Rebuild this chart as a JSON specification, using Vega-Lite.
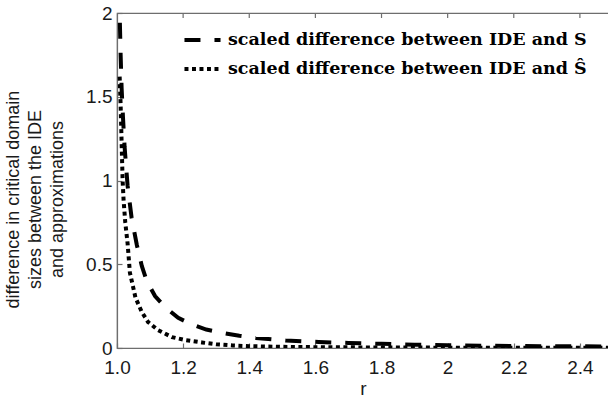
{
  "$schema": "https://vega.github.io/schema/vega-lite/v6.json",
  "autosize": {"type": "none"},
  "padding": {"left": 117, "top": 13, "right": 0, "bottom": 54},
  "width": 492,
  "height": 335,
  "background": "white",
  "config": {
    "view": {"stroke": "#6e6e6e", "strokeWidth": 1.2},
    "axis": {
      "labelFont": "Liberation Sans",
      "labelFontSize": 19,
      "labelColor": "#1a1a1a",
      "labelFlush": false,
      "titleFont": "Liberation Sans",
      "titleFontSize": 18,
      "titleFontWeight": "normal",
      "titleColor": "#1a1a1a",
      "domainColor": "#6e6e6e",
      "tickColor": "#6e6e6e",
      "domainWidth": 1.2,
      "tickWidth": 1.2,
      "grid": false
    }
  },
  "datasets": {
    "curves": [
      {"series": "scaled difference between IDE and S", "r": 1.006, "d": 2.3},
      {"series": "scaled difference between IDE and S", "r": 1.008, "d": 2.0},
      {"series": "scaled difference between IDE and S", "r": 1.011, "d": 1.75},
      {"series": "scaled difference between IDE and S", "r": 1.014, "d": 1.55},
      {"series": "scaled difference between IDE and S", "r": 1.018, "d": 1.38},
      {"series": "scaled difference between IDE and S", "r": 1.023, "d": 1.2},
      {"series": "scaled difference between IDE and S", "r": 1.032, "d": 0.97},
      {"series": "scaled difference between IDE and S", "r": 1.044, "d": 0.78},
      {"series": "scaled difference between IDE and S", "r": 1.06, "d": 0.615},
      {"series": "scaled difference between IDE and S", "r": 1.075, "d": 0.49},
      {"series": "scaled difference between IDE and S", "r": 1.09, "d": 0.4},
      {"series": "scaled difference between IDE and S", "r": 1.115, "d": 0.31},
      {"series": "scaled difference between IDE and S", "r": 1.145, "d": 0.245},
      {"series": "scaled difference between IDE and S", "r": 1.185, "d": 0.18},
      {"series": "scaled difference between IDE and S", "r": 1.227, "d": 0.14},
      {"series": "scaled difference between IDE and S", "r": 1.27, "d": 0.11},
      {"series": "scaled difference between IDE and S", "r": 1.32, "d": 0.09},
      {"series": "scaled difference between IDE and S", "r": 1.37, "d": 0.073},
      {"series": "scaled difference between IDE and S", "r": 1.42, "d": 0.06},
      {"series": "scaled difference between IDE and S", "r": 1.51, "d": 0.045},
      {"series": "scaled difference between IDE and S", "r": 1.61, "d": 0.036},
      {"series": "scaled difference between IDE and S", "r": 1.7, "d": 0.03},
      {"series": "scaled difference between IDE and S", "r": 1.8, "d": 0.025},
      {"series": "scaled difference between IDE and S", "r": 1.9, "d": 0.02},
      {"series": "scaled difference between IDE and S", "r": 2.0, "d": 0.017},
      {"series": "scaled difference between IDE and S", "r": 2.1, "d": 0.014},
      {"series": "scaled difference between IDE and S", "r": 2.2, "d": 0.012},
      {"series": "scaled difference between IDE and S", "r": 2.3, "d": 0.011},
      {"series": "scaled difference between IDE and S", "r": 2.4, "d": 0.01},
      {"series": "scaled difference between IDE and S", "r": 2.5, "d": 0.009},
      {"series": "scaled difference between IDE and Ŝ", "r": 1.008, "d": 1.62},
      {"series": "scaled difference between IDE and Ŝ", "r": 1.011, "d": 1.45},
      {"series": "scaled difference between IDE and Ŝ", "r": 1.013, "d": 1.3},
      {"series": "scaled difference between IDE and Ŝ", "r": 1.015, "d": 1.15},
      {"series": "scaled difference between IDE and Ŝ", "r": 1.017, "d": 1.0},
      {"series": "scaled difference between IDE and Ŝ", "r": 1.02, "d": 0.88},
      {"series": "scaled difference between IDE and Ŝ", "r": 1.025, "d": 0.75},
      {"series": "scaled difference between IDE and Ŝ", "r": 1.032, "d": 0.625},
      {"series": "scaled difference between IDE and Ŝ", "r": 1.039, "d": 0.45},
      {"series": "scaled difference between IDE and Ŝ", "r": 1.056, "d": 0.3},
      {"series": "scaled difference between IDE and Ŝ", "r": 1.075, "d": 0.215},
      {"series": "scaled difference between IDE and Ŝ", "r": 1.094, "d": 0.155},
      {"series": "scaled difference between IDE and Ŝ", "r": 1.124, "d": 0.107},
      {"series": "scaled difference between IDE and Ŝ", "r": 1.166, "d": 0.065},
      {"series": "scaled difference between IDE and Ŝ", "r": 1.205, "d": 0.048},
      {"series": "scaled difference between IDE and Ŝ", "r": 1.257, "d": 0.033},
      {"series": "scaled difference between IDE and Ŝ", "r": 1.3, "d": 0.022},
      {"series": "scaled difference between IDE and Ŝ", "r": 1.35, "d": 0.015},
      {"series": "scaled difference between IDE and Ŝ", "r": 1.4, "d": 0.011},
      {"series": "scaled difference between IDE and Ŝ", "r": 1.5, "d": 0.007},
      {"series": "scaled difference between IDE and Ŝ", "r": 1.6, "d": 0.005},
      {"series": "scaled difference between IDE and Ŝ", "r": 1.8, "d": 0.003},
      {"series": "scaled difference between IDE and Ŝ", "r": 2.0, "d": 0.002},
      {"series": "scaled difference between IDE and Ŝ", "r": 2.5, "d": 0.001}
    ],
    "topticks": [
      {"t": 1.2}, {"t": 1.4}, {"t": 1.6}, {"t": 1.8}, {"t": 2.0}, {"t": 2.2}, {"t": 2.4}
    ]
  },
  "layer": [
    {
      "data": {"name": "curves"},
      "mark": {"type": "line", "color": "black", "strokeWidth": 4, "clip": true, "strokeCap": "butt"},
      "encoding": {
        "x": {
          "field": "r", "type": "quantitative",
          "scale": {"domain": [1, 2.488], "nice": false, "zero": false},
          "axis": {
            "orient": "bottom",
            "values": [1, 1.2, 1.4, 1.6, 1.8, 2, 2.2, 2.4],
            "labelExpr": "datum.value == 1 ? '1.0' : format(datum.value, '')",
            "tickSize": -5,
            "labelPadding": 15,
            "title": "r",
            "titleFontSize": 19,
            "titleY": 40,
            "titleBaseline": "middle"
          }
        },
        "y": {
          "field": "d", "type": "quantitative",
          "scale": {"domain": [0, 2], "nice": false},
          "axis": {
            "values": [0, 0.5, 1, 1.5, 2],
            "labelExpr": "format(datum.value, '')",
            "tickSize": -5,
            "labelPadding": 10,
            "title": ["difference in critical domain", "sizes between the IDE", "and approximations"],
            "titleLineHeight": 22,
            "titlePadding": 19,
            "titleY": 186,
            "titleAlign": "center"
          }
        },
        "strokeDash": {
          "field": "series", "type": "nominal",
          "scale": {"range": [[16, 14], [4, 3.5]]},
          "legend": {
            "title": null,
            "orient": "none",
            "legendX": 65,
            "legendY": 16,
            "symbolType": "stroke",
            "symbolSize": 1300,
            "symbolStrokeWidth": 4,
            "symbolStrokeColor": "black",
            "labelFont": "DejaVu Serif",
            "labelFontWeight": "bold",
            "labelFontSize": 17.5,
            "labelColor": "black",
            "labelOffset": 5,
            "labelLimit": 500,
            "clipHeight": 22,
            "rowPadding": 7,
            "padding": 0
          }
        }
      }
    },
    {
      "data": {"name": "topticks"},
      "mark": {"type": "rule", "color": "#6e6e6e", "strokeWidth": 1.2},
      "encoding": {
        "x": {"field": "t", "type": "quantitative"},
        "y": {"datum": 2},
        "y2": {"datum": 1.97}
      }
    }
  ]
}
